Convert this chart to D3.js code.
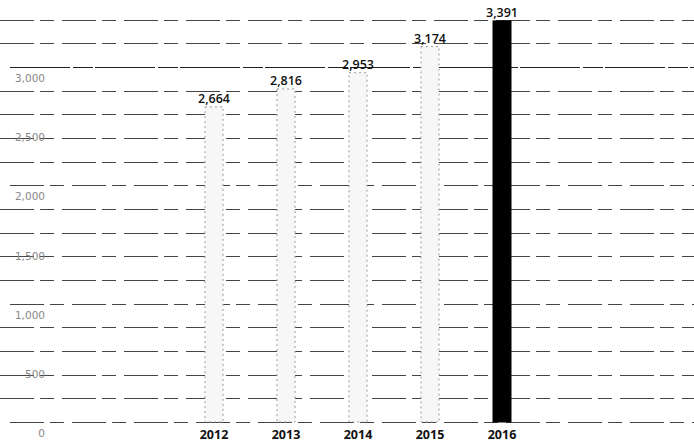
<!DOCTYPE html>
<html>
<head>
<meta charset="utf-8">
<script src="https://cdn.jsdelivr.net/npm/d3@7"></script>
<style>
  html, body { margin: 0; padding: 0; background: #fff; }
  svg { display: block; }
</style>
</head>
<body>
<svg id="chart" width="694" height="441"></svg>
<script>
const categories = ["2012", "2013", "2014", "2015", "2016"];
const values = [2664, 2816, 2953, 3174, 3391];
const highlight = ["2016"];
const yTickValues = [0, 500, 1000, 1500, 2000, 2500, 3000];

const svg = d3.select("#chart");
const W = 694;

const y = d3.scaleLinear().domain([0, 3500]).range([422, 8]);
const x = d3.scaleBand().domain(categories).range([178, 538])
  .paddingInner(0.75).paddingOuter(0.375);

// gridlines every 250
const grid = y.ticks(14);
svg.append("g").selectAll("line").data(grid).join("line")
  .attr("x1", d => d % 500 === 0 && d !== 3500 ? 10 : 0).attr("x2", W)
  .attr("y1", d => Math.round(y(d)) + 0.5).attr("y2", d => Math.round(y(d)) + 0.5)
  .attr("stroke", d => d === 3250 ? "#aaa" : (d === 3500 || d === 3000 ? "#222" : "#444"))
  .attr("stroke-width", d => d === 3500 ? 1.5 : 1)
  .attr("stroke-dasharray", d => d === 3500 || d === 3000 ? "60,3,20,2" :
        (d === 3250 || d === 2750 ? "14,10,6,12" : "34,6,14,8"));

// y tick labels
svg.append("g").selectAll("text").data(yTickValues).join("text")
  .attr("x", 45).attr("y", d => y(d) + 15)
  .attr("text-anchor", "end")
  .attr("font-family", "DejaVu Sans, sans-serif")
  .attr("font-size", 10.5)
  .attr("fill", "#888")
  .text(d => d3.format(",")(d));

// bars
const data = categories.map((c, i) => ({ c, v: values[i] }));
svg.append("g").selectAll("rect").data(data).join("rect")
  .attr("x", d => x(d.c)).attr("width", x.bandwidth())
  .attr("y", d => y(d.v)).attr("height", d => y(0) - y(d.v))
  .attr("fill", d => highlight.includes(d.c) ? "#000" : "#f7f7f7")
  .attr("stroke", d => highlight.includes(d.c) ? "#000" : "#999")
  .attr("stroke-width", 1)
  .attr("stroke-dasharray", d => highlight.includes(d.c) ? null : "2,3");

// value labels
svg.append("g").selectAll("text").data(data).join("text")
  .attr("x", d => x(d.c) + x.bandwidth() / 2)
  .attr("y", d => y(d.v) - 4)
  .attr("text-anchor", "middle")
  .attr("font-family", "Open Sans, sans-serif")
  .attr("font-weight", 600)
  .attr("font-size", 12.5)
  .attr("fill", "#111")
  .text(d => d3.format(",")(d.v));

// category labels
svg.append("g").selectAll("text").data(categories).join("text")
  .attr("x", d => x(d) + x.bandwidth() / 2)
  .attr("y", 438.5)
  .attr("text-anchor", "middle")
  .attr("font-family", "Open Sans, sans-serif")
  .attr("font-weight", 700)
  .attr("font-size", 12.5)
  .attr("fill", "#111")
  .text(d => d);
</script>
</body>
</html>
